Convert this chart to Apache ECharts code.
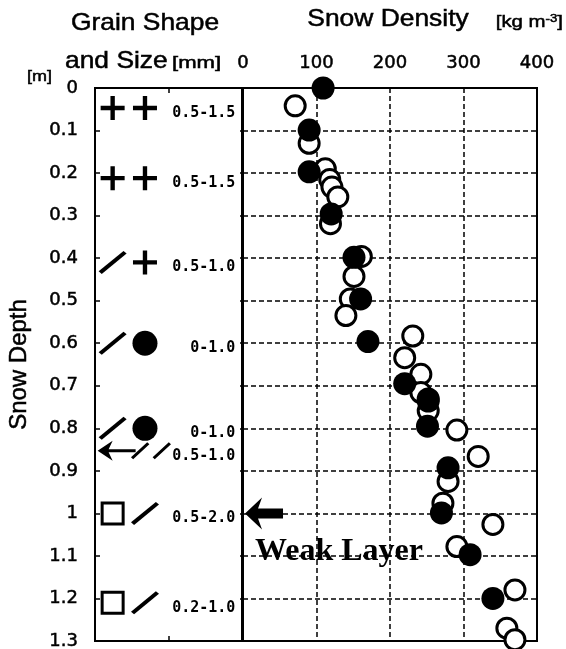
<!DOCTYPE html>
<html>
<head>
<meta charset="utf-8">
<script src="https://cdn.jsdelivr.net/npm/echarts@6/dist/echarts.min.js"></script>
<style>
html,body{margin:0;padding:0;background:#fff}
#chart{width:566px;height:649px}
</style>
</head>
<body>
<div id="chart"></div>
<script>
// snow pit profile: grain shape / size column on the left, density scatter on the right

// density profile, solid circles
const filledDepth = [0.0, 0.099, 0.197, 0.296, 0.398, 0.496, 0.596, 0.695, 0.736, 0.795, 0.893, 0.999, 1.097, 1.2]
const filledDensity = [109, 90, 90, 120, 151, 160, 170, 220, 252, 251, 279, 270, 309, 340]

// density profile, open circles
const openDepth = [0.042, 0.13, 0.19, 0.215, 0.233, 0.256, 0.319, 0.396, 0.443, 0.496, 0.535, 0.583, 0.634, 0.673,
  0.716, 0.731, 0.759, 0.804, 0.866, 0.925, 0.976, 1.026, 1.078, 1.18, 1.27, 1.297]
const openDensity = [71, 90, 112, 118, 121, 129, 119, 161, 151, 146, 140, 231, 220, 242,
  242, 252, 252, 291, 320, 279, 272, 340, 291, 370, 359, 370]

// grain shape rows
const grainDepth = [0.047, 0.212, 0.41, 0.6, 0.8, 0.853, 1.0, 1.21]
const grainShapeA = ['plus', 'plus', 'slash', 'slash', 'slash', 'arrow', 'square', 'square']
const grainShapeB = ['plus', 'plus', 'plus', 'dot', 'dot', 'dslash', 'slash', 'slash']
const grainSize = ['0.5-1.5', '0.5-1.5', '0.5-1.0', '0-1.0', '0-1.0', '0.5-1.0', '0.5-2.0', '0.2-1.0']

const densityTicks = [0, 100, 200, 300, 400]
const depthRange = [0, 1.3]
const weakLayerDepth = 1.0
const weakLayerLabel = 'Weak Layer'

const black = '#000'
const sans = 'Liberation Sans, Arial, sans-serif'
const tickFont = 'DejaVu Sans, sans-serif'

const shapes = {
  plus: { symbol: 'path://M9,0h4v9h9v4h-9v9h-4v-9h-9v-4h9z', size: [24, 24] },
  slash: { symbol: 'path://M0,20L20,0L22.5,2.5L2.5,22.5Z', size: [28, 23] },
  dot: { symbol: 'circle', size: 25 },
  square: { symbol: 'rect', size: 21, style: { color: '#fff', borderColor: black, borderWidth: 3, opacity: 1 } },
  arrow: { symbol: 'path://M0,10L15,0L11,8.5L38,8.5L38,11.5L11,11.5L15,20Z', size: [38, 20], offset: [4, 0] },
  dslash: { symbol: 'path://M0,15L15,0L17,2L2,17ZM20,15L35,0L37,2L22,17Z', size: [40, 17], offset: [6, 0] }
}

function shapeItem(name, x, depth) {
  const s = shapes[name]
  return {
    value: [x, depth],
    symbol: s.symbol,
    symbolSize: s.size,
    symbolOffset: s.offset || [0, 0],
    itemStyle: s.style || { color: black, opacity: 1 }
  }
}

const grainData = []
grainDepth.forEach((d, i) => {
  grainData.push(shapeItem(grainShapeA[i], 0.12, d))
  grainData.push(shapeItem(grainShapeB[i], 0.34, d))
})

const dashed = { color: black, width: 1.5, type: [5, 3] }
const inTick = { show: true, inside: true, length: 5, lineStyle: { color: black, width: 1.5 } }
// scanned print looks a bit heavier than plain regular weight
const heavy = { textBorderColor: black, textBorderWidth: 0.5 }

// the printed figure is a little wider than tall, so the header text is stretched sideways
function headText(text, x, y, align, size, stretch, extra) {
  return {
    type: 'text', x: x, y: y, scaleX: stretch,
    style: Object.assign({ text: text, x: 0, y: 0, align: align, verticalAlign: 'middle',
      fill: black, stroke: black, lineWidth: 0.5, fontSize: size, fontFamily: sans }, extra || {})
  }
}

let chart = echarts.init(document.getElementById('chart'))
chart.setOption({
  animation: false,
  backgroundColor: '#fff',
  grid: [
    { left: 95, top: 88, width: 147, height: 553, show: true, borderColor: black, borderWidth: 2, outerBoundsMode: 'none' },
    { left: 243, top: 88, width: 294, height: 553, show: true, borderColor: black, borderWidth: 2, outerBoundsMode: 'none' }
  ],
  xAxis: [
    { gridIndex: 0, type: 'value', min: 0, max: 1, interval: 0.5, position: 'top',
      axisLine: { show: false }, axisLabel: { show: false }, splitLine: { show: false }, axisTick: inTick },
    { gridIndex: 0, type: 'value', min: 0, max: 1, interval: 0.5, position: 'bottom',
      axisLine: { show: false }, axisLabel: { show: false }, splitLine: { show: false }, axisTick: inTick },
    { gridIndex: 1, type: 'value', min: densityTicks[0], max: densityTicks[densityTicks.length - 1],
      interval: densityTicks[1] - densityTicks[0], position: 'top',
      axisLine: { show: false }, axisTick: { show: false },
      axisLabel: Object.assign({ show: true, color: black, fontSize: 18, fontFamily: tickFont, margin: 16 }, heavy),
      splitLine: { show: true, lineStyle: dashed } }
  ],
  yAxis: [
    { gridIndex: 0, type: 'value', inverse: true, min: depthRange[0], max: depthRange[1], interval: 0.1,
      axisLine: { show: true, lineStyle: { color: black, width: 2 } },
      axisTick: inTick,
      axisLabel: Object.assign({ color: black, fontSize: 18, fontFamily: tickFont, margin: 17 }, heavy),
      splitLine: { show: false },
      name: 'Snow Depth', nameLocation: 'middle', nameGap: 64,
      nameTextStyle: Object.assign({ color: black, fontSize: 24, fontFamily: sans }, heavy) },
    { gridIndex: 1, type: 'value', inverse: true, min: depthRange[0], max: depthRange[1], interval: 0.1,
      axisLine: { show: false }, axisLabel: { show: false },
      axisTick: { show: true, length: 3, lineStyle: { color: black, width: 1.5 } },
      splitLine: { show: true, lineStyle: dashed } }
  ],
  series: [
    {
      type: 'scatter', xAxisIndex: 0, yAxisIndex: 0, clip: false, silent: true,
      data: grainData
    },
    {
      type: 'scatter', xAxisIndex: 0, yAxisIndex: 0, clip: false, silent: true,
      symbolSize: 0,
      itemStyle: { opacity: 1 },
      data: grainDepth.map((d, i) => ({ value: [0.955, d], name: grainSize[i] })),
      label: {
        show: true, position: 'left', distance: 0, offset: [0, 5],
        formatter: p => p.name,
        color: black, fontSize: 15, fontWeight: 'bold', fontFamily: 'DejaVu Sans Mono, monospace'
      }
    },
    {
      type: 'scatter', xAxisIndex: 2, yAxisIndex: 1, clip: false, silent: true,
      symbol: 'circle', symbolSize: 20,
      itemStyle: { color: '#fff', borderColor: black, borderWidth: 3, opacity: 1 },
      data: openDepth.map((d, i) => [openDensity[i], d])
    },
    {
      type: 'scatter', xAxisIndex: 2, yAxisIndex: 1, clip: false, silent: true,
      symbol: 'circle', symbolSize: 23,
      itemStyle: { color: black, opacity: 1 },
      data: filledDepth.map((d, i) => [filledDensity[i], d])
    },
    {
      type: 'scatter', xAxisIndex: 2, yAxisIndex: 1, clip: false, silent: true,
      symbol: 'path://M0,16L17,0L13,11L38,11L38,21L13,21L17,32Z', symbolSize: [38, 32],
      itemStyle: { color: black, opacity: 1 },
      data: [[28.6, weakLayerDepth]],
      label: {
        show: true, position: 'right', distance: 5, offset: [-33, 38],
        formatter: weakLayerLabel,
        color: black, fontSize: 32, fontWeight: 'bold', fontFamily: 'Liberation Serif, Times New Roman, serif'
      }
    }
  ],
  graphic: [
    headText('Grain Shape', 145, 23, 'center', 24, 1.1),
    headText('and Size', 65, 61, 'left', 24, 1.1),
    headText('[mm]', 172, 63, 'left', 17, 1.3),
    headText('[m]', 27, 77, 'left', 15, 1.2),
    headText('Snow Density', 388, 19, 'center', 24, 1.1),
    headText('[kg m{sup|-3}]', 563, 22, 'right', 17, 1.2,
      { rich: { sup: { fontSize: 11, verticalAlign: 'top', fill: black, stroke: black, lineWidth: 0.5, fontFamily: sans } } })
  ]
})
</script>
</body>
</html>
